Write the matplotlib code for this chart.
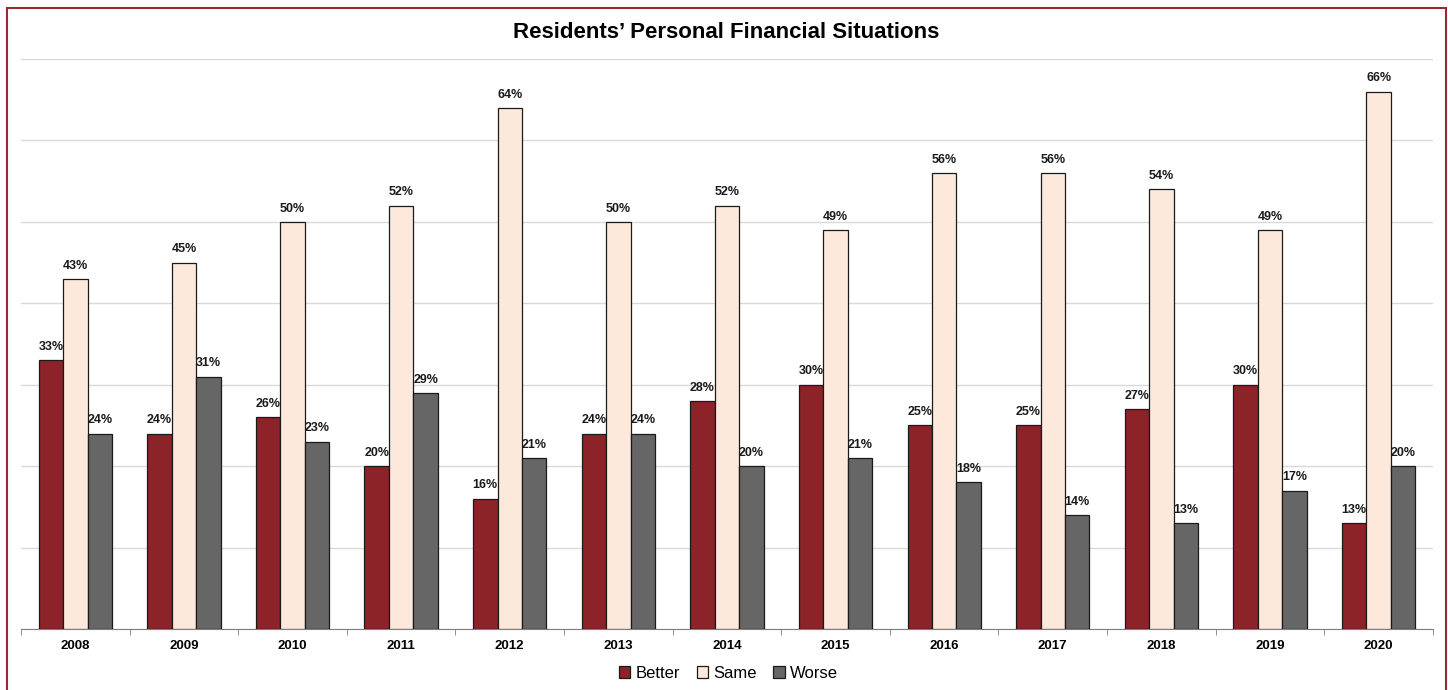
import matplotlib.pyplot as plt
import numpy as np
from matplotlib.patches import Rectangle

plt.rcParams['font.family'] = ['Liberation Sans', 'DejaVu Sans']

years = ['2008', '2009', '2010', '2011', '2012', '2013', '2014',
         '2015', '2016', '2017', '2018', '2019', '2020']
better = [33, 24, 26, 20, 16, 24, 28, 30, 25, 25, 27, 30, 13]
same = [43, 45, 50, 52, 64, 50, 52, 49, 56, 56, 54, 49, 66]
worse = [24, 31, 23, 29, 21, 24, 20, 21, 18, 14, 13, 17, 20]

series = [('Better', better, '#8b2329'),
          ('Same', same, '#fde9dc'),
          ('Worse', worse, '#666666')]

fig = plt.figure(figsize=(14.48, 6.9), dpi=100)
ax = fig.add_axes([0.0145, 0.0884, 0.9751, 0.8261])

x = np.arange(len(years))
w = 0.225
for i, (name, vals, col) in enumerate(series):
    pos = x + (i - 1) * w
    ax.bar(pos, vals, w, color=col, edgecolor='#1a1a1a',
           linewidth=0.9, label=name, zorder=3)
    for xb, v in zip(pos, vals):
        ax.text(xb, v + 0.9, f'{v}%', ha='center', va='bottom',
                fontsize=9, fontweight='bold', color='#1a1a1a')

ax.set_xlim(-0.5, len(years) - 0.5)
ax.set_ylim(0, 70)
ax.set_yticks(np.arange(0, 71, 10))
ax.yaxis.grid(True, color='#d9d9d9', linewidth=1)
ax.set_axisbelow(True)
ax.tick_params(axis='y', left=False, labelleft=False)

ax.set_xticks(x)
ax.set_xticklabels(years, fontsize=9.5, fontweight='bold')
ax.tick_params(axis='x', length=0, pad=8)
ax.set_xticks(np.arange(-0.5, len(years)), minor=True)
ax.tick_params(axis='x', which='minor', length=4, color='#7f7f7f')

for s in ['top', 'right', 'left']:
    ax.spines[s].set_visible(False)
ax.spines['bottom'].set_color('#7f7f7f')

fig.text(0.5015, 0.953, 'Residents\u2019 Personal Financial Situations',
         ha='center', va='center', fontsize=16, fontweight='bold')

fig.legend(loc='center', bbox_to_anchor=(0.503, 0.024), ncol=3,
           frameon=False, fontsize=12, handlelength=0.7, handleheight=0.7,
           handletextpad=0.3, columnspacing=1.0)

# dark red frame around the chart area
fig.patches.append(Rectangle((7 / 1448, -0.05), 1439 / 1448, 1.05 - 8 / 690,
                             transform=fig.transFigure, fill=False,
                             edgecolor='#9b2a30', linewidth=1.5))

fig.savefig('out.png', dpi=100)
